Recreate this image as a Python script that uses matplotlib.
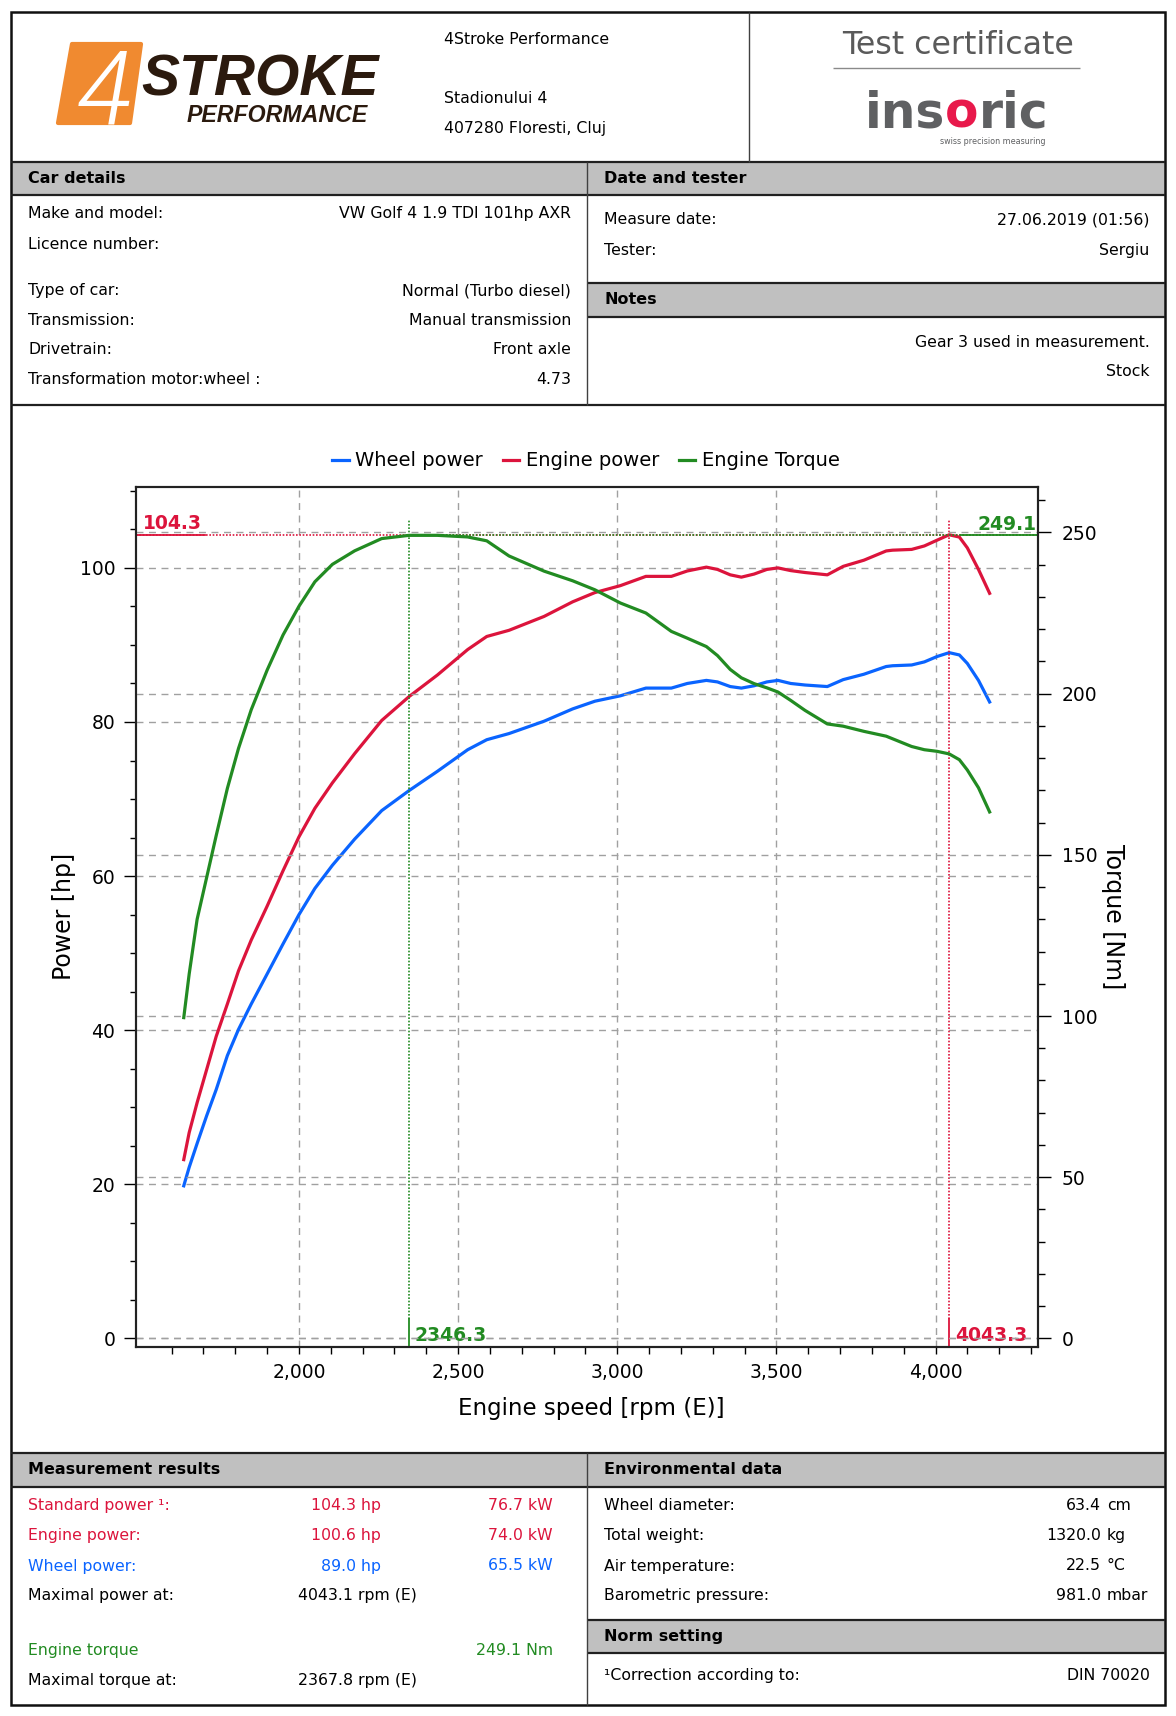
import matplotlib
matplotlib.use('Agg')
import matplotlib.pyplot as plt
from matplotlib.patches import Rectangle, Polygon
from matplotlib.ticker import MultipleLocator, FixedLocator, FuncFormatter

plt.rcParams['font.family'] = ['DejaVu Sans']

RED = '#dc143c'
BLUE = '#0a64ff'
GREEN = '#228b22'
BAND = '#c0c0c0'
GRID = '#a0a0a0'

rpm = [1638, 1655, 1680, 1710, 1740, 1775, 1810, 1850, 1900, 1950,
       2000, 2050, 2105, 2175, 2260, 2346, 2435, 2530, 2590, 2660,
       2770, 2860, 2930, 3010, 3090, 3170, 3220, 3280, 3315, 3355,
       3390, 3430, 3470, 3505, 3545, 3590, 3660, 3710, 3775, 3845,
       3865, 3925, 3965, 4005, 4043, 4075, 4100, 4135, 4170]
wheel_hp = [19.8, 22.2, 25.3, 28.9, 32.3, 36.7, 40.1, 43.4, 47.3, 51.2,
            55.0, 58.4, 61.4, 64.8, 68.5, 71.1, 73.6, 76.4, 77.7, 78.5,
            80.1, 81.7, 82.7, 83.4, 84.4, 84.4, 85.0, 85.4, 85.2, 84.6,
            84.4, 84.7, 85.2, 85.4, 85.0, 84.8, 84.6, 85.5, 86.2, 87.2,
            87.3, 87.4, 87.8, 88.5, 89.0, 88.7, 87.6, 85.4, 82.6]
engine_hp = [23.2, 26.7, 30.6, 34.9, 39.2, 43.4, 47.7, 51.7, 56.1, 60.7,
             65.1, 68.8, 72.1, 75.9, 80.2, 83.3, 86.1, 89.4, 91.1, 91.9,
             93.7, 95.6, 96.8, 97.7, 98.9, 98.9, 99.6, 100.1, 99.8, 99.1,
             98.8, 99.2, 99.8, 100.0, 99.65, 99.4, 99.1, 100.2, 101.0, 102.2,
             102.3, 102.4, 102.85, 103.6, 104.3, 104.0, 102.6, 99.8, 96.7]
torque_nm = [99.5, 113.0, 130.0, 143.0, 156.0, 170.6, 183.0, 195.0, 207.3, 218.2,
             227.1, 234.7, 240.1, 244.3, 248.1, 249.1, 249.1, 248.6, 247.4, 242.7,
             238.0, 235.0, 232.2, 228.1, 225.0, 219.3, 217.2, 214.6, 211.8, 207.5,
             204.9, 203.1, 201.8, 200.5, 197.9, 194.8, 190.6, 189.9, 188.3, 186.8,
             186.0, 183.6, 182.6, 182.1, 181.3, 179.5, 176.3, 170.8, 163.3]

peak_power_rpm, peak_power = 4043.3, 104.3
peak_torque_rpm, peak_torque = 2346.3, 249.1
rpm_ticks = [2000, 2500, 3000, 3500, 4000]

address = ['4Stroke Performance', 'Stadionului 4', '407280 Floresti, Cluj']
car_labels = ['Make and model:', 'Licence number:', 'Type of car:', 'Transmission:',
              'Drivetrain:', 'Transformation motor:wheel :']
car_values = ['VW Golf 4 1.9 TDI 101hp AXR', '', 'Normal (Turbo diesel)',
              'Manual transmission', 'Front axle', '4.73']
date_labels = ['Measure date:', 'Tester:']
date_values = ['27.06.2019 (01:56)', 'Sergiu']
notes = ['Gear 3 used in measurement.', 'Stock']
res_labels = ['Standard power \u00b9:', 'Engine power:', 'Wheel power:', 'Maximal power at:',
              'Engine torque', 'Maximal torque at:']
res_hp = ['104.3 hp', '100.6 hp', '89.0 hp', '', '', '']
res_kw = ['76.7 kW', '74.0 kW', '65.5 kW', '', '249.1 Nm', '']
res_rpm = ['', '', '', '4043.1 rpm (E)', '', '2367.8 rpm (E)']
res_colors = [RED, RED, BLUE, 'black', GREEN, 'black']
env_labels = ['Wheel diameter:', 'Total weight:', 'Air temperature:', 'Barometric pressure:']
env_values = ['63.4', '1320.0', '22.5', '981.0']
env_units = ['cm', 'kg', '\u00b0C', 'mbar']

fig = plt.figure(figsize=(11.76, 17.16), dpi=100)
bg = fig.add_axes([0, 0, 1, 1])
bg.set_xlim(0, 1176)
bg.set_ylim(1716, 0)
bg.axis('off')

L, R, T, B = 10.6, 1165.2, 11.7, 1705
MID = 587
RX = 1149.5   # rechte Textkante
FS = 11.3


def hline(y, x0=L, x1=R, lw=1.6, c='#202020'):
    bg.plot([x0, x1], [y, y], color=c, lw=lw, solid_capstyle='butt')


def vline(x, y0, y1, lw=1.0, c='#404040'):
    bg.plot([x, x], [y0, y1], color=c, lw=lw, solid_capstyle='butt')


def band(x0, x1, y0, y1, title):
    bg.add_patch(Rectangle((x0, y0), x1 - x0, y1 - y0, color=BAND, lw=0))
    hline(y0, x0, x1)
    hline(y1, x0, x1)
    bg.text(x0 + 17, (y0 + y1) / 2, title, fontsize=11.5, fontweight='bold', va='center')


# Rahmen und Abschnitte
band(L, MID, 161.7, 195, 'Car details')
band(MID, R, 161.7, 195, 'Date and tester')
band(MID, R, 283.3, 316.7, 'Notes')
band(L, MID, 1453.3, 1486.7, 'Measurement results')
band(MID, R, 1453.3, 1486.7, 'Environmental data')
band(MID, R, 1620, 1653.3, 'Norm setting')
hline(405)
vline(749, T, 161.7)
vline(MID, 161.7, 405)
vline(MID, 1453.3, B)
bg.add_patch(Rectangle((L, T), R - L, B - T, fill=False, ec='#101010', lw=1.8))

# Logo 4STROKE
bg.add_patch(Polygon([(72, 44), (141, 44), (130, 123), (58, 123)], closed=True,
                     fc='#f08a30', ec='#f08a30', lw=3, joinstyle='round'))
bg.text(104, 124, '4', color='white', fontsize=74, fontstyle='italic',
        fontweight=300, family=['Roboto', 'DejaVu Sans'], ha='center', va='baseline')
bg.text(141, 96, 'STROKE', color='#2b1a0e', fontsize=41, fontweight='bold',
        fontstyle='italic', family=['Liberation Sans Narrow', 'Liberation Sans'],
        va='baseline')
bg.text(187, 122, 'PERFORMANCE', color='#2b1a0e', fontsize=16.7, fontweight='bold',
        fontstyle='italic', family=['Liberation Sans Narrow', 'Liberation Sans'],
        va='baseline')

for s, y in zip(address, [39, 98.3, 128.3]):
    bg.text(444, y, s, fontsize=FS, va='center')

# Logo insoric
bg.text(958, 46, 'Test certificate', color='#5a5a5a', fontsize=22.8, ha='center', va='center')
hline(68.3, 833, 1080, lw=1.0, c='#8a8a8a')
renderer = fig.canvas.get_renderer()
x = 865
for s, c in [('ins', '#5f6062'), ('o', '#e8194b'), ('ric', '#5f6062')]:
    t = bg.text(x, 127, s, color=c, fontsize=35, fontweight='bold', va='baseline')
    x += t.get_window_extent(renderer).width
bg.text(1045, 142, 'swiss precision measuring', color='#5f6062', fontsize=5.8,
        ha='right', va='center')

# Tabellen oben
for lab, val, y in zip(car_labels, car_values, [213.3, 244.3, 291, 320.7, 350, 380]):
    bg.text(28, y, lab, fontsize=FS, va='center')
    bg.text(571, y, val, fontsize=FS, va='center', ha='right')
for lab, val, y in zip(date_labels, date_values, [220, 250.7]):
    bg.text(604, y, lab, fontsize=FS, va='center')
    bg.text(RX, y, val, fontsize=FS, va='center', ha='right')
for s, y in zip(notes, [342.3, 371.7]):
    bg.text(RX, y, s, fontsize=FS, va='center', ha='right')

# Tabellen unten
res_y = [1505.7, 1535.7, 1566, 1595.7, 1650.7, 1680.7]
for i, y in enumerate(res_y):
    c = res_colors[i]
    bg.text(28, y, res_labels[i], fontsize=FS, va='center', color=c)
    if res_hp[i]:
        bg.text(381, y, res_hp[i], fontsize=FS, va='center', ha='right', color=c)
    if res_kw[i]:
        bg.text(553, y, res_kw[i], fontsize=FS, va='center', ha='right', color=c)
    if res_rpm[i]:
        bg.text(298, y, res_rpm[i], fontsize=FS, va='center', color=c)
for i, y in enumerate(res_y[:4]):
    bg.text(604, y, env_labels[i], fontsize=FS, va='center')
    bg.text(1101, y, env_values[i], fontsize=FS, va='center', ha='right')
    bg.text(1107, y, env_units[i], fontsize=FS, va='center')
bg.text(604, 1675.7, '\u00b9Correction according to:', fontsize=FS, va='center')
bg.text(RX, 1675.7, 'DIN 70020', fontsize=FS, va='center', ha='right')

# Diagramm
ax = fig.add_axes([0.11539, 0.21521, 0.76726, 0.50117])
ax2 = ax.twinx()
xlim = (1487, 4322)
hp_lim = (-1.08, 110.54)
nm_lim = (hp_lim[0] * 2.39, hp_lim[1] * 2.39)

ax.set_xlim(*xlim)
ax.set_ylim(*hp_lim)
ax2.set_ylim(*nm_lim)

ax.grid(True, which='major', color=GRID, ls=(0, (5, 4)), lw=1.0)
ax2.grid(True, which='major', axis='y', color=GRID, ls=(0, (5, 4)), lw=1.0)
ax.set_axisbelow(True)

l1, = ax.plot(rpm, wheel_hp, color=BLUE, lw=2.3, label='Wheel power')
l2, = ax.plot(rpm, engine_hp, color=RED, lw=2.3, label='Engine power')
l3, = ax2.plot(rpm, torque_nm, color=GREEN, lw=2.3, label='Engine Torque')

# Markierungen der Maxima
dot = (0, (1, 1))
ax.plot([xlim[0], xlim[1]], [peak_power, peak_power], color=RED, lw=1.2, ls=dot)
ax.plot([xlim[0], 1705], [peak_power, peak_power], color=RED, lw=1.3)
ax.plot([peak_power_rpm, peak_power_rpm], [2.5, 106.4], color=RED, lw=1.2, ls=dot)
ax.plot([peak_power_rpm, peak_power_rpm], [hp_lim[0], 2.5], color=RED, lw=1.3)
ax2.plot([peak_torque_rpm, xlim[1]], [peak_torque, peak_torque], color=GREEN, lw=1.2, ls=dot)
ax2.plot([4080, xlim[1]], [peak_torque, peak_torque], color=GREEN, lw=1.3)
ax2.plot([peak_torque_rpm, peak_torque_rpm], [6.0, 254.3], color=GREEN, lw=1.2, ls=dot)
ax2.plot([peak_torque_rpm, peak_torque_rpm], [nm_lim[0], 6.0], color=GREEN, lw=1.3)

lab_kw = dict(fontsize=13.5, fontweight='bold', textcoords='offset points')
ax.annotate(f'{peak_power:.1f}', xy=(xlim[0], peak_power), xytext=(5, 1),
            color=RED, ha='left', va='bottom', **lab_kw)
ax2.annotate(f'{peak_torque:.1f}', xy=(xlim[1], peak_torque), xytext=(-1, 1),
             color=GREEN, ha='right', va='bottom', **lab_kw)
ax.annotate(f'{peak_torque_rpm:.1f}', xy=(peak_torque_rpm, hp_lim[0]), xytext=(4, 1),
            color=GREEN, ha='left', va='bottom', **lab_kw)
ax.annotate(f'{peak_power_rpm:.1f}', xy=(peak_power_rpm, hp_lim[0]), xytext=(4, 1),
            color=RED, ha='left', va='bottom', **lab_kw)

# Achsen
ax.xaxis.set_major_locator(FixedLocator(rpm_ticks))
ax.xaxis.set_minor_locator(FixedLocator(list(range(1600, 4400, 100))))
ax.xaxis.set_major_formatter(FuncFormatter(lambda v, p: f'{v:,.0f}'))
ax.yaxis.set_major_locator(MultipleLocator(20))
ax.yaxis.set_minor_locator(MultipleLocator(5))
ax2.yaxis.set_major_locator(MultipleLocator(50))
ax2.yaxis.set_minor_locator(MultipleLocator(10))

ax.tick_params(axis='x', which='both', length=5, width=1, labelsize=13.5, pad=7, top=False)
ax.tick_params(axis='y', which='major', length=8.6, width=1, labelsize=13.5, pad=6)
ax.tick_params(axis='y', which='minor', length=4.3, width=1)
ax2.tick_params(axis='y', which='major', length=9.7, width=1, labelsize=13.5, pad=7.5)
ax2.tick_params(axis='y', which='minor', length=5, width=1)

for a in (ax, ax2):
    for sp in a.spines.values():
        sp.set_linewidth(1.5)
        sp.set_color('#222222')

ax.set_xlabel('Engine speed [rpm (E)]', fontsize=16.5, va='center')
ax.xaxis.set_label_coords(0.505, -0.0713)
ax.set_ylabel('Power [hp]', fontsize=17, va='center')
ax.yaxis.set_label_coords(-0.0800, 0.5)
ax2.set_ylabel('Torque [Nm]', fontsize=17, rotation=270, va='center')
ax2.yaxis.set_label_coords(1.0835, 0.5)

fig.legend([l1, l2, l3], [l1.get_label(), l2.get_label(), l3.get_label()],
           loc='center', bbox_to_anchor=(586 / 1176, 1 - 461 / 1716), ncol=3,
           frameon=False, fontsize=14, handlelength=0.85, handletextpad=0.35,
           columnspacing=1.0)

fig.savefig('out.png', dpi=100)
